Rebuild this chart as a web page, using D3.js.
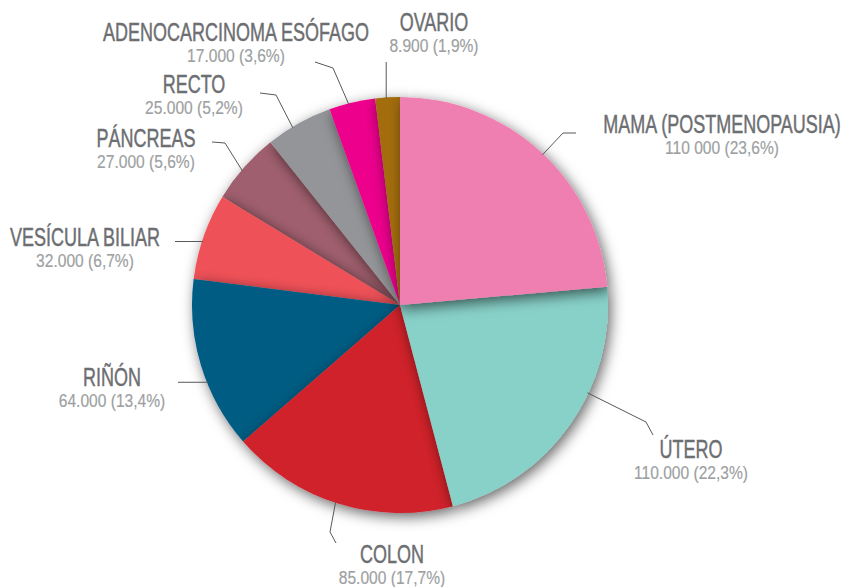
<!DOCTYPE html>
<html>
<head>
<meta charset="utf-8">
<script src="https://cdn.jsdelivr.net/npm/d3@7"></script>
<style>
  html, body { margin: 0; padding: 0; background: #fff; }
  svg { display: block; }
  .title { font-family: 'Liberation Sans', Arial, sans-serif; fill: #6d6e71; stroke: #6d6e71; stroke-width: 0.45; }
  .value { font-family: 'Liberation Sans', Arial, sans-serif; fill: #9d9fa2; stroke: #9d9fa2; stroke-width: 0.2; }
</style>
</head>
<body>
<svg id="chart" width="856" height="587"></svg>
<script>
// data
const organs = ['MAMA (POSTMENOPAUSIA)', 'ÚTERO', 'COLON', 'RIÑÓN', 'VESÍCULA BILIAR',
  'PÁNCREAS', 'RECTO', 'ADENOCARCINOMA ESÓFAGO', 'OVARIO'];
const caseLabels = ['110 000', '110.000', '85.000', '64.000', '32.000', '27.000', '25.000', '17.000', '8.900'];
const shares = [23.6, 22.3, 17.7, 13.4, 6.7, 5.6, 5.2, 3.6, 1.9];
const colors = ['#f07fb1', '#88d1c9', '#d0212b', '#005b82', '#ef5158', '#a05f6e', '#939598', '#ec008c', '#a36d08'];

// label layout: title centre / baseline, leader points after the one on the arc
// null means "same as previous point" for that coordinate
const labelLayout = [
  { x: 722, y: 133, pts: [[563, 133], [576, 133]], da: 1 },
  { x: 691, y: 458, pts: [[646, 422], [653, 435]], da: -10 },
  { x: 392, y: 563, pts: [[330, 532], [336, 543]], da: 1 },
  { x: 112, y: 386, pts: [[178, null]], da: -5 },
  { x: 85, y: 246, pts: [[175, null]], da: -1.4 },
  { x: 146, y: 147, pts: [[225, 143], [212, 142]], da: -1 },
  { x: 194, y: 93, pts: [[276, 95], [260, 93]], da: -2 },
  { x: 236, y: 41, pts: [[333, 68], [315, 62]], da: -1 },
  { x: 434, y: 31, pts: [[null, 62]], da: -0.4 }
];
// order the slices are painted in, so each one's shadow falls on the right neighbour
const drawOrder = [5, 4, 3, 2, 1, 6, 7, 8, 0];

const cx = 400, cy = 305, radius = 208;

const svg = d3.select('#chart');
svg.append('rect').attr('width', 856).attr('height', 587).attr('fill', '#fff');

const defs = svg.append('defs');
const shadow = defs.append('filter').attr('id', 'shadow')
  .attr('x', '-30%').attr('y', '-30%').attr('width', '160%').attr('height', '160%');
shadow.append('feDropShadow')
  .attr('dx', 3).attr('dy', 4).attr('stdDeviation', 7)
  .attr('flood-color', '#000').attr('flood-opacity', 0.6);

const pie = d3.pie().sort(null).value((d) => d);
const arcData = pie(shares);
const arc = d3.arc().innerRadius(0).outerRadius(radius);

const g = svg.append('g').attr('transform', `translate(${cx},${cy})`);

drawOrder.forEach((i) => {
  g.append('path')
    .attr('d', arc(arcData[i]))
    .attr('fill', colors[i])
    .attr('filter', 'url(#shadow)');
});

// leaders and labels
const fmtShare = (v) => v.toFixed(1).replace('.', ',');

arcData.forEach((d, i) => {
  const lay = labelLayout[i];
  const mid = (d.startAngle + d.endAngle) / 2 + lay.da * Math.PI / 180;
  const [px, py] = d3.pointRadial(mid, radius - 1);
  const points = [[cx + px, cy + py]];
  lay.pts.forEach(([x, y]) => {
    const prev = points[points.length - 1];
    points.push([x === null ? prev[0] : x, y === null ? prev[1] : y]);
  });

  svg.append('path')
    .attr('d', d3.line()(points))
    .attr('fill', 'none')
    .attr('stroke', '#58595b')
    .attr('stroke-width', 1);

  // condensed look: squeeze the regular face horizontally
  svg.append('text')
    .attr('class', 'title')
    .attr('transform', `translate(${lay.x},${lay.y}) scale(0.72,1)`)
    .attr('text-anchor', 'middle')
    .attr('font-size', 25)
    .text(organs[i]);

  svg.append('text')
    .attr('class', 'value')
    .attr('transform', `translate(${lay.x},${lay.y + 21}) scale(0.82,1)`)
    .attr('text-anchor', 'middle')
    .attr('font-size', 19)
    .text(`${caseLabels[i]} (${fmtShare(shares[i])}%)`);
});
</script>
</body>
</html>
